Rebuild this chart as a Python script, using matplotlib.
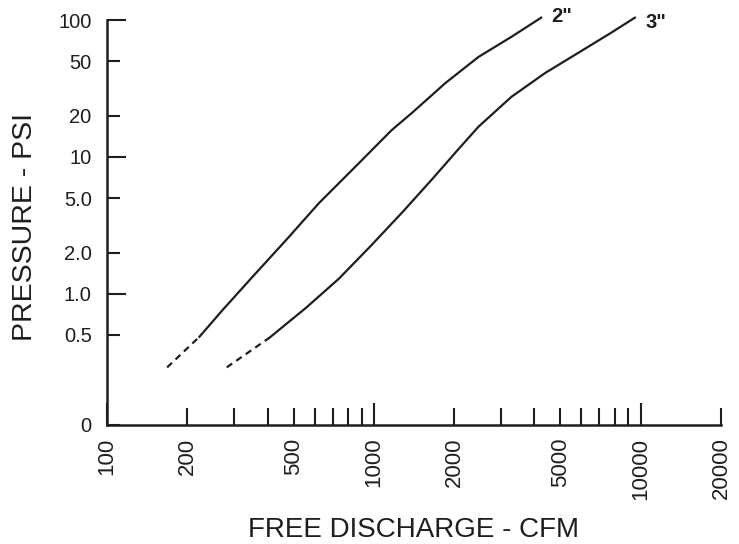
import matplotlib
matplotlib.use('Agg')
import matplotlib.pyplot as plt
from matplotlib.ticker import FixedLocator, FuncFormatter

# curves (free discharge cfm, pressure psi)
# the first leg of each curve is drawn dashed
cfm_2in = [168, 222, 271, 351, 470, 623, 879, 1167, 1387, 1857, 2466, 3273, 4236]
psi_2in = [0.29, 0.485, 0.76, 1.33, 2.48, 4.6, 9.0, 15.7, 20.9, 34.7, 53.7, 75.2, 104]
cfm_3in = [281, 406, 557, 740, 983, 1294, 1646, 2076, 2466, 3273, 4385, 5822, 7727, 9510]
psi_3in = [0.29, 0.477, 0.79, 1.29, 2.28, 4.04, 6.8, 11.4, 16.6, 27.4, 41.0, 57.4, 80.4, 104]
n_dashed = 2

# broken axis: bottom of the log scale is labelled "0"
y_zero = 0.11

x_major = [100, 1000, 10000]
x_minor = [200, 300, 400, 500, 600, 700, 800, 900,
           2000, 3000, 4000, 5000, 6000, 7000, 8000, 9000, 20000]
x_labels = {100: '100', 200: '200', 500: '500', 1000: '1000', 2000: '2000',
            5000: '5000', 10000: '10000', 20000: '20000'}
y_major = [1, 10, 100]
y_minor = [y_zero, 0.5, 2, 5, 20, 50]
y_labels = {y_zero: '0', 0.5: '0.5', 1: '1.0', 2: '2.0', 5: '5.0',
            10: '10', 20: '20', 50: '50', 100: '100'}

ink = '#1e1e1e'
plt.rcParams['font.family'] = ['Liberation Sans', 'DejaVu Sans']
plt.rcParams['text.color'] = ink

fig = plt.figure(figsize=(7.39, 5.44), dpi=100)
ax = fig.add_axes([107 / 739, 119 / 544, 614 / 739, 405 / 544])

for cfm, psi, name, off in [(cfm_2in, psi_2in, '2"', (7, 0.5)),
                            (cfm_3in, psi_3in, '3"', (8, -3.5))]:
    ax.plot(cfm[:n_dashed], psi[:n_dashed], color=ink, lw=1.6,
            dashes=(3, 2.2), clip_on=False)
    ax.plot(cfm[n_dashed - 1:], psi[n_dashed - 1:], color=ink, lw=1.6,
            clip_on=False)
    ax.annotate(name, xy=(cfm[-1], psi[-1]), xytext=off,
                textcoords='offset points', ha='left', va='center',
                fontsize=14.5, fontweight='bold', color=ink,
                annotation_clip=False)

ax.set_xscale('log')
ax.set_yscale('log')
ax.set_xlim(100, 20000)
ax.set_ylim(y_zero, 100)

ax.xaxis.set_major_locator(FixedLocator(x_major))
ax.xaxis.set_minor_locator(FixedLocator(x_minor))
xfmt = FuncFormatter(lambda v, pos: x_labels.get(int(round(v)), ''))
ax.xaxis.set_major_formatter(xfmt)
ax.xaxis.set_minor_formatter(xfmt)

ax.yaxis.set_major_locator(FixedLocator(y_major))
ax.yaxis.set_minor_locator(FixedLocator(y_minor))
yfmt = FuncFormatter(lambda v, pos: y_labels.get(round(v, 3), ''))
ax.yaxis.set_major_formatter(yfmt)
ax.yaxis.set_minor_formatter(yfmt)

ax.tick_params(axis='x', which='both', direction='in', width=1.5,
               color=ink, labelcolor=ink, labelsize=16, pad=9,
               labelrotation=90)
ax.tick_params(axis='x', which='major', length=15.5)
ax.tick_params(axis='x', which='minor', length=12)
ax.tick_params(axis='y', which='both', direction='in', width=1.5,
               color=ink, labelcolor=ink, labelsize=14.5, pad=11)
ax.tick_params(axis='y', which='major', length=14)
ax.tick_params(axis='y', which='minor', length=9.5)

for side in ['top', 'right']:
    ax.spines[side].set_visible(False)
for side in ['left', 'bottom']:
    ax.spines[side].set_linewidth(1.8)
    ax.spines[side].set_color(ink)

ax.set_xlabel('FREE DISCHARGE - CFM', fontsize=20, color=ink)
ax.xaxis.set_label_coords(0.5, -0.228)
ax.set_ylabel('PRESSURE - PSI', fontsize=20.5, color=ink)
ax.yaxis.set_label_coords(-0.113, 0.49)

fig.savefig('out.png', dpi=100)
